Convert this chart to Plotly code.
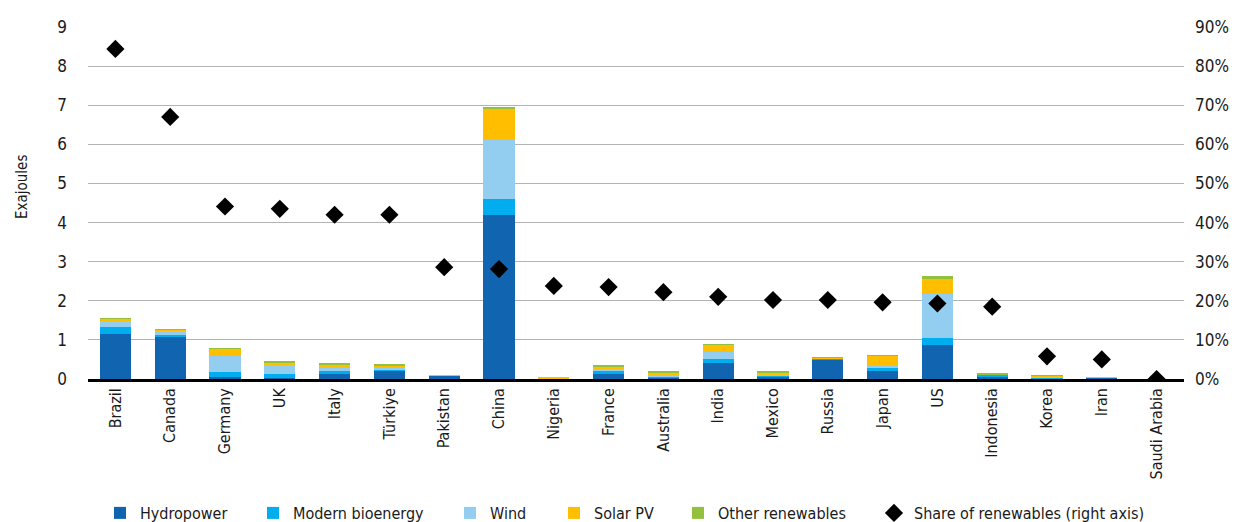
import plotly.graph_objects as go

countries = ["Brazil", "Canada", "Germany", "UK", "Italy", "Türkiye", "Pakistan", "China",
             "Nigeria", "France", "Australia", "India", "Mexico", "Russia", "Japan", "US",
             "Indonesia", "Korea", "Iran", "Saudi Arabia"]

hydropower = [1.14, 1.09, 0.05, 0.02, 0.15, 0.21, 0.08, 4.20, 0.02, 0.15, 0.04, 0.42, 0.06, 0.50, 0.20, 0.86, 0.06, 0.01, 0.03, 0.00]
bioenergy = [0.18, 0.03, 0.13, 0.10, 0.05, 0.03, 0.00, 0.40, 0.00, 0.05, 0.03, 0.09, 0.02, 0.02, 0.10, 0.20, 0.03, 0.02, 0.00, 0.00]
wind = [0.17, 0.11, 0.42, 0.25, 0.08, 0.05, 0.01, 1.50, 0.00, 0.08, 0.03, 0.18, 0.04, 0.01, 0.03, 1.11, 0.00, 0.01, 0.00, 0.00]
solar_pv = [0.05, 0.03, 0.17, 0.04, 0.09, 0.03, 0.01, 0.82, 0.01, 0.04, 0.06, 0.18, 0.04, 0.01, 0.26, 0.38, 0.00, 0.05, 0.01, 0.00]
other = [0.01, 0.01, 0.02, 0.04, 0.04, 0.06, 0.00, 0.03, 0.00, 0.04, 0.02, 0.01, 0.03, 0.02, 0.02, 0.08, 0.06, 0.01, 0.00, 0.00]

share = [0.844, 0.670, 0.441, 0.435, 0.420, 0.420, 0.286, 0.281, 0.238, 0.235, 0.222, 0.210,
         0.202, 0.202, 0.196, 0.193, 0.185, 0.058, 0.050, 0.0]

font = "DejaVu Sans Condensed, sans-serif"
W, H = 1232, 514  # page body adds 8px margin
L, R, T, B = 80, 56, 19, 143

fig = go.Figure()
series = [
    ("Hydropower", hydropower, "#1165b0", "legend", 92),
    ("Modern bioenergy", bioenergy, "#00adef", "legend2", 245),
    ("Wind", wind, "#93cdf0", "legend3", 442),
    ("Solar PV", solar_pv, "#ffbe00", "legend4", 546),
    ("Other renewables", other, "#93c13e", "legend5", 670),
]
legend_x = {}
for name, vals, color, leg, lx in series:
    fig.add_trace(go.Bar(x=countries, y=vals, name=name, marker_color=color,
                         marker_line_width=0, legend=leg))
    legend_x[leg] = lx

fig.add_trace(go.Scatter(x=countries, y=share, name="Share of renewables (right axis)",
                         mode="markers", yaxis="y2", legend="legend6",
                         marker=dict(symbol="diamond", size=14, color="black")))
legend_x["legend6"] = 866

legends = {}
for leg, lx in legend_x.items():
    legends[leg] = dict(orientation="h", x=lx / W, xanchor="left", xref="container",
                        y=1 - 505 / H, yref="container", yanchor="middle",
                        font=dict(size=16), itemwidth=30, bgcolor="rgba(0,0,0,0)")

fig.update_layout(
    width=W, height=H,
    barmode="stack", bargap=0.43,
    plot_bgcolor="white", paper_bgcolor="white",
    font=dict(family=font, size=16, color="#1a1a1a"),
    margin=dict(l=L, r=R, t=T, b=B),
    showlegend=True,
    xaxis=dict(tickangle=-90, showline=True, linecolor="black", linewidth=2.5,
               ticks="", showgrid=False, automargin=False, range=[-0.5, 19.5]),
    yaxis=dict(range=[0, 9], dtick=1, showgrid=True, gridcolor="#b3b3b3",
               gridwidth=1, zeroline=False, ticks="", ticklabelstandoff=20,
               tickfont=dict(size=17), automargin=False),
    yaxis2=dict(overlaying="y", side="right", range=[0, 0.9], dtick=0.1,
                tickformat=".0%", showgrid=False, zeroline=False, ticks="",
                ticklabelstandoff=10, tickfont=dict(size=17), automargin=False),
    **legends,
)

# axis title sits above the plot's middle, so place it as an annotation
plot_w, plot_h = W - L - R, H - T - B
fig.add_annotation(text="Exajoules", x=(14 - L) / plot_w, y=(H - B - 179) / plot_h,
                   xref="paper", yref="paper", xanchor="center", yanchor="middle",
                   showarrow=False, textangle=-90, font=dict(size=15))

fig.write_html("out.html")
